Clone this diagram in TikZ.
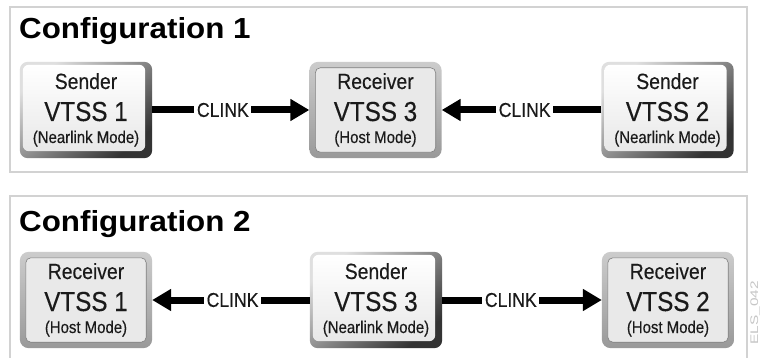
\documentclass[tikz,border=0pt]{standalone}
\usepackage{fontspec}
\setmainfont{Liberation Sans}
\newfontfamily\narfont[FakeStretch=0.88,FakeBold=0.3]{Liberation Sans}
\newfontfamily\titlefont[FakeStretch=1.08]{Liberation Sans}
\newfontfamily\wmfont[FakeStretch=1.4]{Liberation Sans}
\usetikzlibrary{arrows.meta}
\pgfdeclarelayer{bg}
\pgfsetlayers{bg,main}
\definecolor{txt}{HTML}{1A1A1A}
\tikzset{
  boxnode/.style={minimum width=132pt, minimum height=96pt, inner sep=0pt, draw=none},
  panel/.style={draw=gray!35, line width=1.6pt},
  clink/.style={line width=7pt, black, -{Triangle[length=19pt,width=21pt]}},
  lbl/.style={fill=white, inner sep=2.5pt, text=txt, font=\narfont\fontsize{20}{20}\selectfont},
  ttl/.style={anchor=base west, inner sep=0pt, text=black, font=\titlefont\bfseries\fontsize{29}{29}\selectfont},
  tA/.style={anchor=base, inner sep=0pt, text=txt, font=\narfont\fontsize{22}{22}\selectfont},
  tB/.style={anchor=base, inner sep=0pt, text=txt, font=\narfont\fontsize{27.5}{27.5}\selectfont},
  tC/.style={anchor=base, inner sep=0pt, text=txt, font=\narfont\fontsize{17}{17}\selectfont},
}
\newcommand\boxlabels[4]{%
  \node[tA] (#1a) at ([yshift=21pt]#1.center) {#2};
  \node[tB] (#1b) at ([yshift=-11pt]#1.center) {#3};
  \node[tC] (#1c) at ([yshift=-33pt]#1.center) {#4};}
\newcommand\senderbox[3]{%
  \node[boxnode] (#1) at (#2,#3) {};
  \begin{pgfonlayer}{bg}
  \shade[rounded corners=8pt, top color=gray!25, bottom color=black!80, shading angle=40]
    (#1.north west) rectangle (#1.south east);
  \shade[rounded corners=6pt, top color=white, bottom color=gray!18]
    ([xshift=3pt,yshift=-3pt]#1.north west) rectangle ([xshift=-7pt,yshift=7pt]#1.south east);
  \end{pgfonlayer}}
\newcommand\receiverbox[3]{%
  \node[boxnode] (#1) at (#2,#3) {};
  \begin{pgfonlayer}{bg}
  \shade[rounded corners=9pt, top color=gray!40, bottom color=gray!80]
    (#1.north west) rectangle (#1.south east);
  \filldraw[rounded corners=5pt, fill=gray!17, draw=black!50, line width=0.6pt]
    ([xshift=6pt,yshift=-6pt]#1.north west) rectangle ([xshift=-6pt,yshift=6pt]#1.south east);
  \end{pgfonlayer}}
\begin{document}
\begin{tikzpicture}[x=1pt,y=-1pt]
\useasboundingbox (0,0) rectangle (760,358);
\begin{pgfonlayer}{bg}
\fill[white] (0,0) rectangle (760,358);
\draw[panel] (10,7) rectangle (747,172);
\draw[panel] (10,196) rectangle (747,380);
\end{pgfonlayer}
\node[ttl] (t1) at (19,39) {Configuration 1};
\node[ttl] (t2) at (19,232) {Configuration 2};
% row 1
\senderbox{sa}{86}{110}
\boxlabels{sa}{Sender}{VTSS 1}{(Nearlink Mode)}
\receiverbox{rc}{375.5}{110}
\boxlabels{rc}{Receiver}{VTSS 3}{(Host Mode)}
\senderbox{sb}{667.5}{110}
\boxlabels{sb}{Sender}{VTSS 2}{(Nearlink Mode)}
\draw[clink] (sa) -- node[lbl, pos=0.45] (l1) {CLINK} (rc);
\draw[clink] (sb) -- node[lbl, pos=0.48] (l2) {CLINK} (rc);
% row 2
\receiverbox{ra}{86}{300}
\boxlabels{ra}{Receiver}{VTSS 1}{(Host Mode)}
\senderbox{sc}{376}{300}
\boxlabels{sc}{Sender}{VTSS 3}{(Nearlink Mode)}
\receiverbox{rb}{668}{300}
\boxlabels{rb}{Receiver}{VTSS 2}{(Host Mode)}
\draw[clink] (sc) -- node[lbl, pos=0.49] (l3) {CLINK} (ra);
\draw[clink] (sc) -- node[lbl, pos=0.43] (l4) {CLINK} (rb);
% watermark
\node[rotate=90, anchor=base east, inner sep=0pt, text=gray!45, font=\wmfont\fontsize{11}{11}\selectfont] (wm) at (758,281) {ELS\_042};
\end{tikzpicture}
\end{document}
